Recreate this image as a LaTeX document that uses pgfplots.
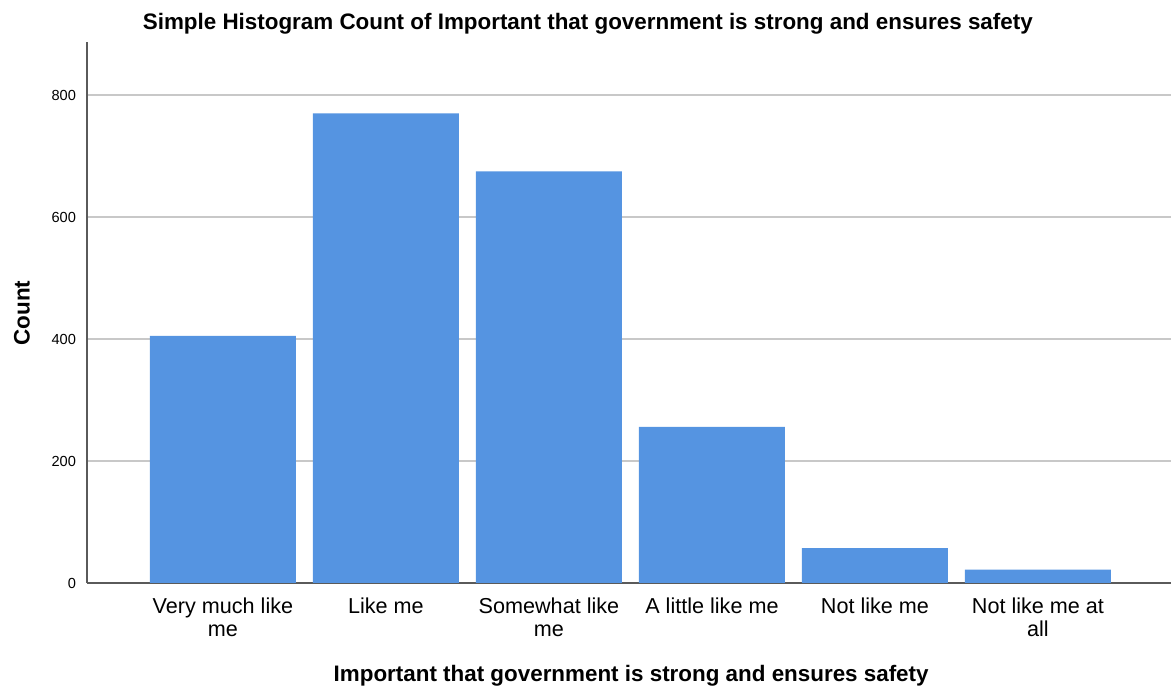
\documentclass[border=0pt]{standalone}
\usepackage{pgfplots}
\pgfplotsset{compat=1.18}
\usepackage{fontspec}
\setmainfont{Liberation Sans}
\definecolor{barblue}{RGB}{85,148,225}
\definecolor{gridgray}{RGB}{200,200,200}
\definecolor{axisgray}{RGB}{90,90,90}
\begin{document}
\begin{tikzpicture}
\begin{axis}[
  at={(0,0)}, anchor=south west,
  scale only axis,
  width=542pt, height=270.5pt,
  xmin=-0.834, xmax=5.816,
  ymin=0, ymax=887,
  axis x line=bottom, axis y line=left,
  axis line style={-, axisgray, line width=0.6pt},
  ytick={0,200,400,600,800},
  xtick={0,1,2,3,4,5},
  xticklabels={{Very much like\\me},{Like me},{Somewhat like\\me},{A little like me},{Not like me},{Not like me at\\all}},
  xticklabel style={font=\fontsize{10.8}{11.5}\selectfont, align=center, yshift=-4pt},
  yticklabel style={font=\fontsize{7.3}{8}\selectfont, xshift=-2pt},
  major tick length=0pt,
  ymajorgrids, grid style={gridgray, line width=0.7pt},
  /pgf/number format/assume math mode=true,
  title={\textbf{Simple Histogram Count of Important that government is strong and ensures safety}},
  title style={font=\fontsize{11.2}{12}\selectfont, at={(axis description cs:0.462,1.011)}, anchor=center},
  xlabel={\textbf{Important that government is strong and ensures safety}},
  xlabel style={font=\fontsize{11.2}{12}\selectfont, at={(axis description cs:0.502,-0.172)}, anchor=center},
  ylabel={\textbf{Count}},
  ylabel style={font=\fontsize{11.2}{12}\selectfont, at={(axis description cs:-0.06,0.499)}, anchor=center},
  ybar, bar width=73pt, bar shift=0pt,
]
\addplot[fill=barblue, draw=none] coordinates {(0,405) (1,770) (2,675) (3,256) (4,57) (5,22)};
\end{axis}
\pgfresetboundingbox
\path (-43.5pt,-52.5pt) rectangle (542pt,291.5pt);
\end{tikzpicture}
\end{document}
